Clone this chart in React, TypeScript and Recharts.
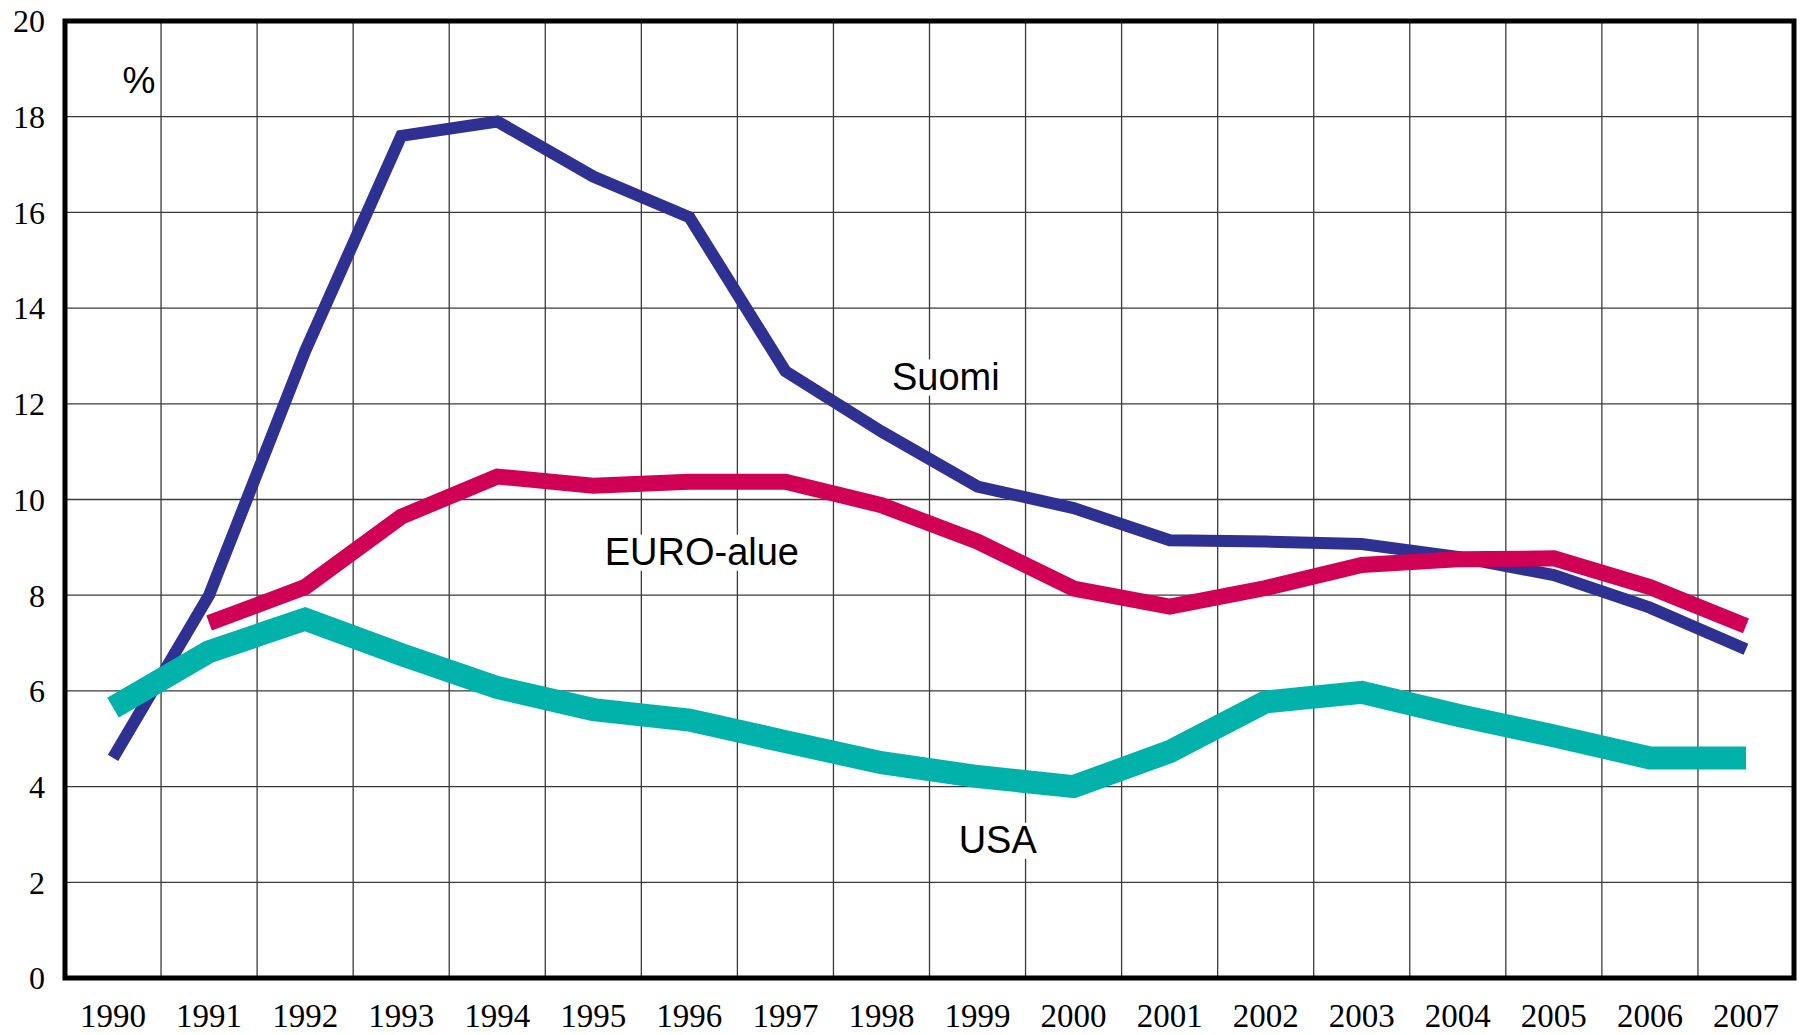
import { LineChart, Line, XAxis, YAxis, CartesianGrid, ReferenceArea, ReferenceDot } from 'recharts'

const YEARS = [1990, 1991, 1992, 1993, 1994, 1995, 1996, 1997, 1998, 1999, 2000, 2001, 2002, 2003, 2004, 2005, 2006, 2007]
const SUOMI = [4.6, 8.0, 13.1, 17.6, 17.9, 16.75, 15.9, 12.68, 11.42, 10.27, 9.82, 9.15, 9.12, 9.07, 8.8, 8.42, 7.74, 6.87]
const EURO = [null, 7.42, 8.17, 9.64, 10.48, 10.29, 10.37, 10.37, 9.88, 9.12, 8.14, 7.76, 8.15, 8.63, 8.75, 8.77, 8.17, 7.36]
const USA = [5.65, 6.82, 7.5, 6.76, 6.07, 5.61, 5.39, 4.94, 4.5, 4.21, 4.0, 4.73, 5.77, 5.97, 5.49, 5.06, 4.6, 4.6]
const Y_TICKS = [0, 2, 4, 6, 8, 10, 12, 14, 16, 18, 20]
const GRID_X = [1989.5, 1990.5, 1991.5, 1992.5, 1993.5, 1994.5, 1995.5, 1996.5, 1997.5, 1998.5, 1999.5, 2000.5, 2001.5, 2002.5, 2003.5, 2004.5, 2005.5, 2006.5, 2007.5]

// series labels, placed in data units (year, value at text baseline)
const LABELS = [
  { text: 'Suomi', x: 1998.67, y: 12.29, size: 38 },
  { text: 'EURO-alue', x: 1996.13, y: 8.63, size: 38 },
  { text: 'USA', x: 1999.21, y: 2.61, size: 38 },
  { text: '%', x: 1990.27, y: 18.5, size: 37 },
]

const data = YEARS.map((year, i) => ({ year, suomi: SUOMI[i], euro: EURO[i], usa: USA[i] }))

function TextBox(props: any) {
  const { cx, cy, text, size } = props
  const w = text.length * size * 0.56 + 8
  return (
    <g>
      <rect x={cx - w / 2} y={cy - size * 0.8} width={w} height={size * 0.95} fill="#fff" />
      <text x={cx} y={cy} textAnchor="middle" fontFamily="'Liberation Sans', Arial, sans-serif" fontSize={size} fill="#000">
        {text}
      </text>
    </g>
  )
}

export default function App() {
  return (
    <div style={{ width: 1801, height: 1035, background: '#fff' }}>
      <style>{'body{margin:0}'}</style>
      <LineChart width={1801} height={1035} data={data} margin={{ top: 21, right: 7, bottom: 7, left: 15 }}>
        <XAxis xAxisId="grid" type="number" dataKey="year" domain={[1989.5, 2007.5]} ticks={GRID_X} hide />
        <CartesianGrid xAxisId="grid" stroke="#3a3a3a" strokeWidth={1.3} />
        <XAxis
          type="number"
          dataKey="year"
          domain={[1989.5, 2007.5]}
          ticks={YEARS}
          interval={0}
          height={50}
          axisLine={false}
          tickLine={false}
          tickSize={0}
          tickMargin={26}
          tick={{ fill: '#000', fontSize: 33, fontFamily: "'Liberation Serif', 'Times New Roman', serif" }}
        />
        <YAxis
          domain={[0, 20]}
          ticks={Y_TICKS}
          interval={0}
          width={50}
          axisLine={false}
          tickLine={false}
          tickSize={0}
          tickMargin={20}
          tick={{ fill: '#000', fontSize: 32, fontFamily: "'Liberation Serif', 'Times New Roman', serif" }}
        />
        <ReferenceArea x1={1989.5} x2={2007.5} y1={0} y2={20} fill="none" stroke="#000" strokeWidth={5} ifOverflow="visible" />
        {LABELS.map((l) => (
          <ReferenceDot key={l.text} x={l.x} y={l.y} r={0} shape={(p: any) => <TextBox {...p} text={l.text} size={l.size} />} />
        ))}
        <Line dataKey="suomi" stroke="#2e3192" strokeWidth={12} strokeLinejoin="miter" strokeLinecap="butt" dot={false} activeDot={false} isAnimationActive={false} />
        <Line dataKey="euro" stroke="#d00055" strokeWidth={16} strokeLinejoin="miter" strokeLinecap="butt" dot={false} activeDot={false} isAnimationActive={false} />
        <Line dataKey="usa" stroke="#00b2a9" strokeWidth={23} strokeLinejoin="miter" strokeLinecap="butt" dot={false} activeDot={false} isAnimationActive={false} />
      </LineChart>
    </div>
  )
}
